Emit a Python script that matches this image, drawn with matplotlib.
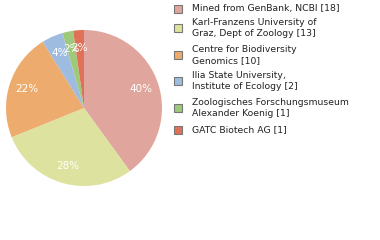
import math
import matplotlib
matplotlib.use("Agg")
import matplotlib.pyplot as plt
from matplotlib.patches import Rectangle

labels = ["Mined from GenBank, NCBI", "Karl-Franzens University of\nGraz, Dept of Zoology",
          "Centre for Biodiversity\nGenomics", "Ilia State University,\nInstitute of Ecology",
          "Zoologisches Forschungsmuseum\nAlexander Koenig", "GATC Biotech AG"]
values = [18, 13, 10, 2, 1, 1]
colors = ["#E0A59C", "#DDE29F", "#EEAB6E", "#9EBBE0", "#9EC87A", "#E07158"]

total = sum(values)
W, H = 380, 240
fig = plt.figure(figsize=(W / 100, H / 100), dpi=100)
cx, cy, r = 84, 108, 78
ax = fig.add_axes([(cx - r) / W, (H - cy - r) / H, 2 * r / W, 2 * r / H])
wedges, texts, autotexts = ax.pie(values, colors=colors, startangle=90, counterclock=False,
                                  autopct=lambda p: "%d%%" % math.floor(p + 1e-9),
                                  pctdistance=0.77,
                                  textprops=dict(color="white", fontsize=7.5, family="DejaVu Sans"))
ax.set_aspect("auto")
ax.set_xlim(-1, 1)
ax.set_ylim(-1, 1)

ys = [9, 28, 55, 81, 108, 130]
for lab, col, v, y in zip(labels, colors, values, ys):
    fig.patches.append(Rectangle(((174) / W, (H - y - 4) / H), 8 / W, 8 / H,
                                 transform=fig.transFigure, facecolor=col,
                                 edgecolor="#777777", linewidth=0.8))
    fig.text(192 / W, (H - y) / H, "%s [%d]" % (lab, v), fontsize=6.7, va="center", ha="left",
             color="#222222", linespacing=1.25, family="DejaVu Sans")

fig.savefig("out.png", dpi=100)
